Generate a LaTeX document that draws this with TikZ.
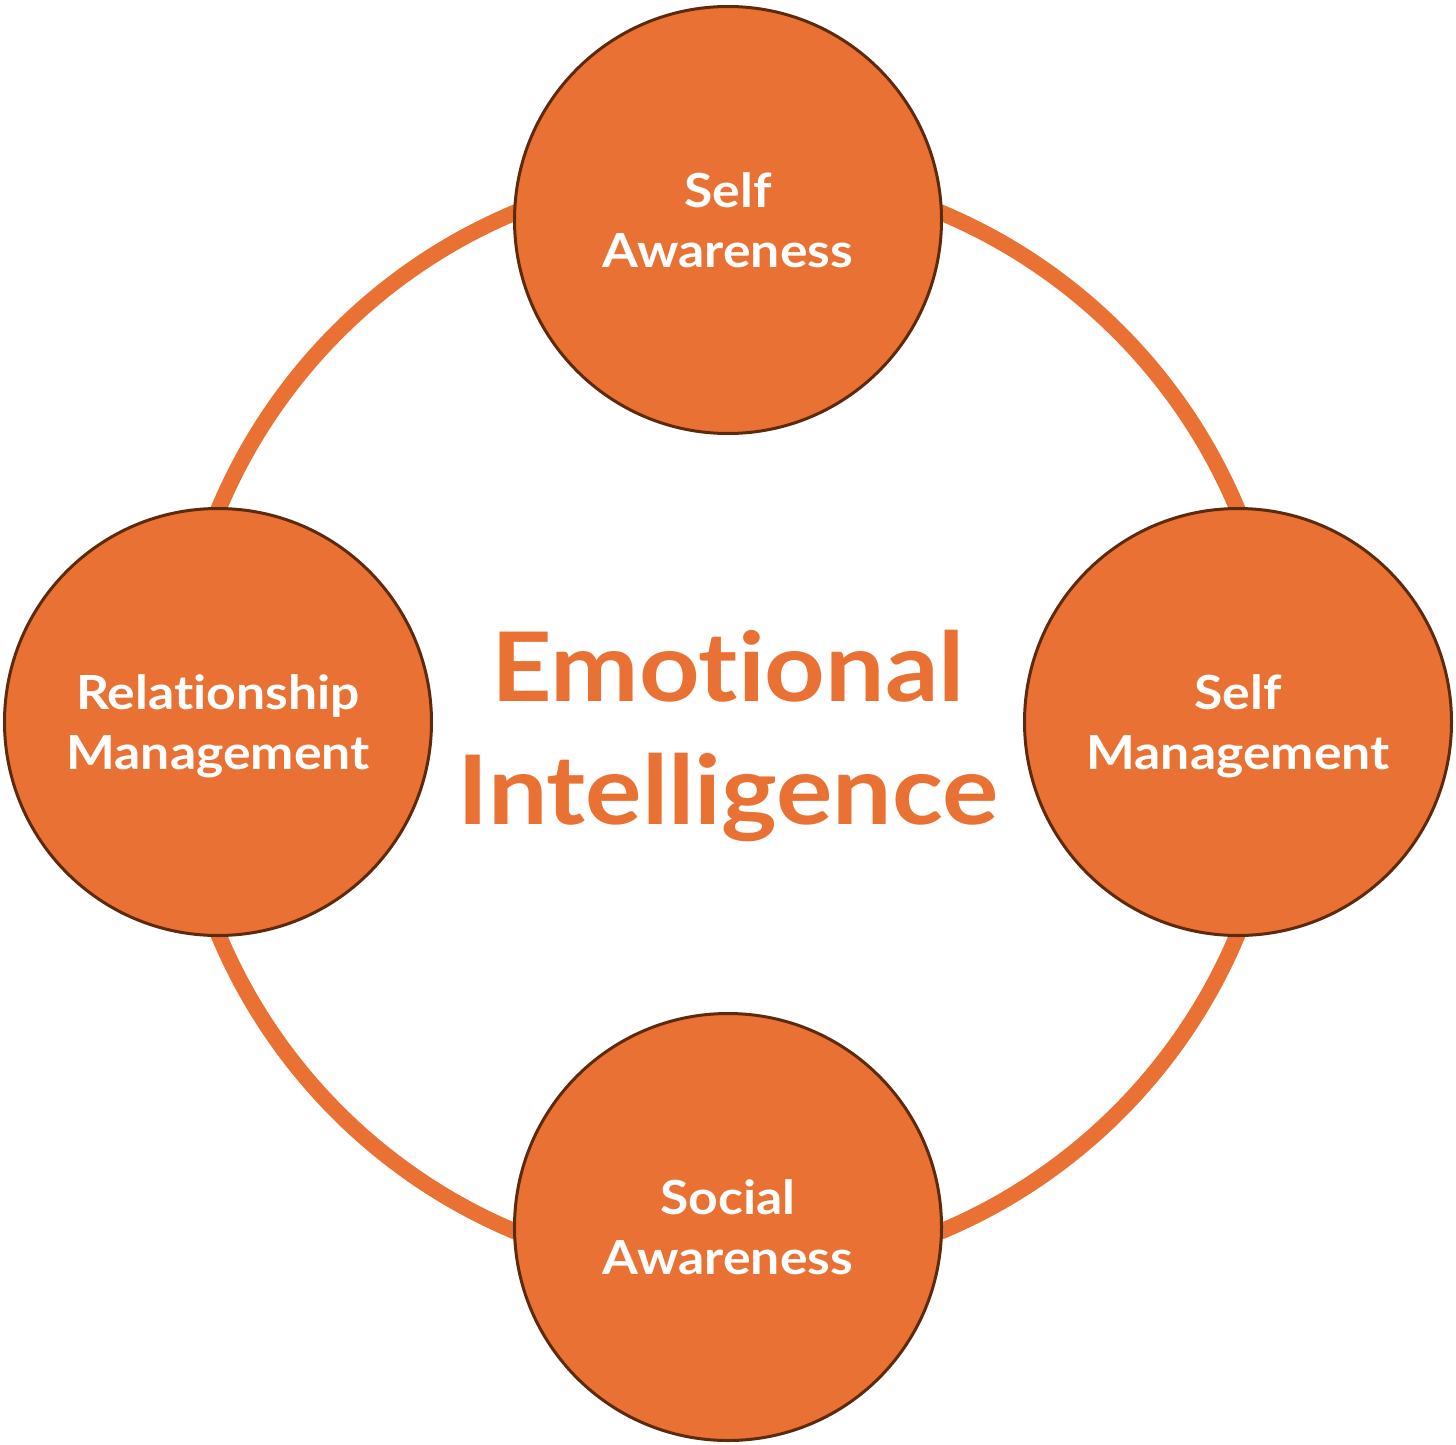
\documentclass[tikz,border=0pt]{standalone}
\usepackage{fontspec}
\setmainfont{Lato}[Ligatures=NoCommon, FakeStretch=1.1]
\definecolor{eiorange}{HTML}{E87133}
\definecolor{eibrown}{HTML}{5E2A0E}
\tikzset{
  pillar/.style={circle, fill=eiorange, draw=eibrown, line width=3pt,
    minimum size=427pt, inner sep=0pt, text=white, align=center, text depth=0pt,
    font=\bfseries\fontsize{47}{60}\selectfont},
  ring/.style={draw=eiorange, line width=16pt},
  title/.style={text=eiorange, align=center, text depth=0pt,
    font=\bfseries\fontsize{96}{123}\selectfont}
}
\begin{document}
\begin{tikzpicture}[x=1pt,y=-1pt]
\useasboundingbox (0,0) rectangle (1456,1445);
\coordinate (c) at (728,722);
\draw[ring] (c) circle[radius=552];
\node[pillar] (sa) at (728,220) {Self\\Awareness};
\node[pillar] (rm) at (218,722) {Relationship\\Management};
\node[pillar] (sm) at (1238,722) {Self\\Management};
\node[pillar] (so) at (728,1227) {Social\\Awareness};
\node[title] (ei) at (728,727) {Emotional\\Intelligence};
\end{tikzpicture}
\end{document}
